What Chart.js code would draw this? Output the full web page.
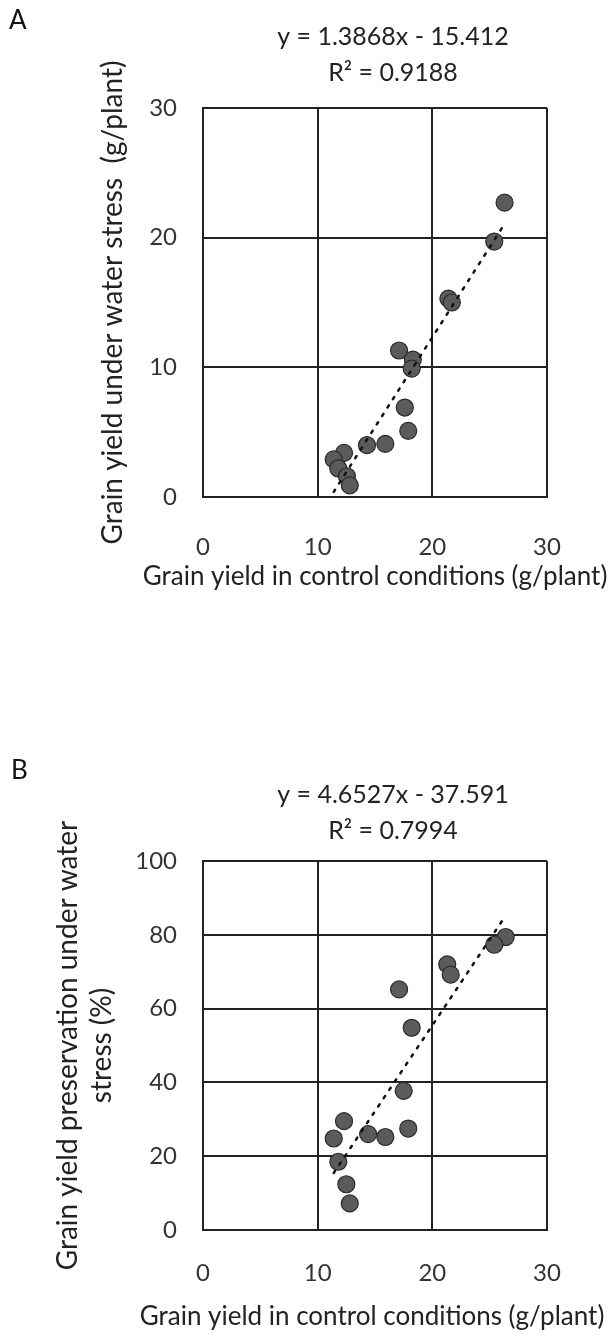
<!DOCTYPE html>
<html>
<head>
<meta charset="utf-8">
<script src="https://cdn.jsdelivr.net/npm/chart.js@4"></script>
<style>
  body { margin: 0; background: #fff; width: 614px; height: 1341px; position: relative; overflow: hidden; font-family: Lato, sans-serif; }
  .panel { position: absolute; left: 0; width: 614px; }
  .letter { position: absolute; font-size: 26px; color: #111; z-index: 2; }
</style>
</head>
<body>
<div class="panel" style="top:0"><canvas id="chartA" width="614" height="600"></canvas></div>
<div class="panel" style="top:740px"><canvas id="chartB" width="614" height="601"></canvas></div>
<div class="letter" style="left:9px;top:3px">A</div>
<div class="letter" style="left:11px;top:753px">B</div>
<script>
// panel A: grain yield control vs stress (g/plant)
const controlA = [26.3, 25.4, 21.4, 21.7, 17.1, 18.3, 18.2, 17.6, 17.9, 15.9, 14.3, 12.3, 11.4, 11.8, 12.55, 12.8];
const stressA  = [22.7, 19.7, 15.3, 15.0, 11.3, 10.6, 9.9, 6.9, 5.1, 4.1, 4.0, 3.4, 2.9, 2.2, 1.6, 0.9];
const fitA = [1.3868, -15.412];
const eqA = ["y = 1.3868x - 15.412", "R\u00B2 = 0.9188"];

// panel B: grain yield preservation (%)
const controlB = [26.4, 25.4, 21.3, 21.6, 17.1, 18.2, 17.5, 17.9, 15.9, 14.4, 12.3, 11.4, 11.8, 12.5, 12.8];
const preservB = [79.4, 77.3, 72.0, 69.2, 65.2, 54.8, 37.7, 27.5, 25.2, 26.0, 29.5, 24.8, 18.5, 12.4, 7.2];
const fitB = [4.6527, -37.591];
const eqB = ["y = 4.6527x - 37.591", "R\u00B2 = 0.7994"];

const xTitle = "Grain yield in control conditions (g/plant)";
const yTitleA = "Grain yield under water stress  (g/plant)";
const yTitleB = ["Grain yield preservation under water", "stress (%)"];

const INK = '#222';

// trendline equation above the plot + x axis title (drawn here so it is not squeezed to the axis width)
const labelPlugin = {
  id: 'labels',
  afterDraw(chart, args, opts) {
    const { ctx, chartArea } = chart;
    const cx = (chartArea.left + chartArea.right) / 2;
    ctx.save();
    ctx.fillStyle = INK;
    ctx.textAlign = 'center';
    ctx.textBaseline = 'middle';
    ctx.font = '25px Lato';
    opts.lines.forEach((t, i) => ctx.fillText(t, cx + 18, opts.top + i * 36));
    ctx.font = '26px Lato';
    ctx.fillText(xTitle, cx + opts.xTitleDx, chartArea.bottom + opts.xTitleGap);
    ctx.restore();
  }
};

function trendPoints(xs, fit) {
  const lo = Math.min(...xs), hi = Math.max(...xs);
  return [lo, hi].map(x => ({ x: x, y: fit[0] * x + fit[1] }));
}

function makeChart(id, xs, ys, fit, eq, s) {
  const ctx = document.getElementById(id).getContext('2d');
  return new Chart(ctx, {
    type: 'scatter',
    data: {
      datasets: [
        {
          type: 'line',
          data: trendPoints(xs, fit),
          borderColor: '#111',
          borderWidth: 2.5,
          borderDash: [2.5, 7.5],
          borderCapStyle: 'round',
          pointRadius: 0,
          fill: false,
          order: 0
        },
        {
          data: xs.map((x, i) => ({ x: x, y: ys[i] })),
          backgroundColor: '#5b5b5b',
          borderColor: '#2a2a2a',
          borderWidth: 1.2,
          pointRadius: 8.5,
          order: 1
        }
      ]
    },
    options: {
      responsive: false,
      animation: false,
      layout: { padding: s.pad },
      plugins: {
        legend: { display: false },
        tooltip: { enabled: false },
        labels: { lines: eq, top: s.eqTop, xTitleGap: s.xTitleGap, xTitleDx: s.xTitleDx }
      },
      scales: {
        x: {
          type: 'linear',
          min: 0, max: 30,
          ticks: { stepSize: 10, padding: s.xTickPad, color: '#333', font: { family: 'Lato', size: 24 } },
          grid: { color: INK, lineWidth: 2, drawTicks: false },
          border: { color: INK, width: 2 },
          afterFit: (scale) => { scale.height = s.xH; }
        },
        y: {
          min: 0, max: s.yMax,
          ticks: { stepSize: s.yStep, padding: 26, color: '#333', font: { family: 'Lato', size: 24 } },
          grid: { color: INK, lineWidth: 2, drawTicks: false },
          border: { color: INK, width: 2 },
          title: { display: true, text: s.yTitle, color: INK, font: s.yTitleFont, padding: { top: s.yTitlePad, bottom: 0 } },
          afterFit: (scale) => { scale.width = 203; }
        }
      }
    },
    plugins: [labelPlugin]
  });
}

makeChart('chartA', controlA, stressA, fitA, eqA, {
  pad: { left: 0, right: 67, top: 108, bottom: 3 },
  eqTop: 37, xTickPad: 36, xH: 100, xTitleGap: 80, xTitleDx: 0,
  yMax: 30, yStep: 10, yTitle: yTitleA,
  yTitleFont: { family: 'Lato', size: 28 }, yTitlePad: 96
});

makeChart('chartB', controlB, preservB, fitB, eqB, {
  pad: { left: 0, right: 67, top: 121, bottom: 6 },
  eqTop: 55, xTickPad: 29, xH: 105, xTitleGap: 87, xTitleDx: -3,
  yMax: 100, yStep: 20, yTitle: yTitleB,
  yTitleFont: { family: 'Lato', size: 28, lineHeight: '34px' }, yTitlePad: 51
});
</script>
</body>
</html>
